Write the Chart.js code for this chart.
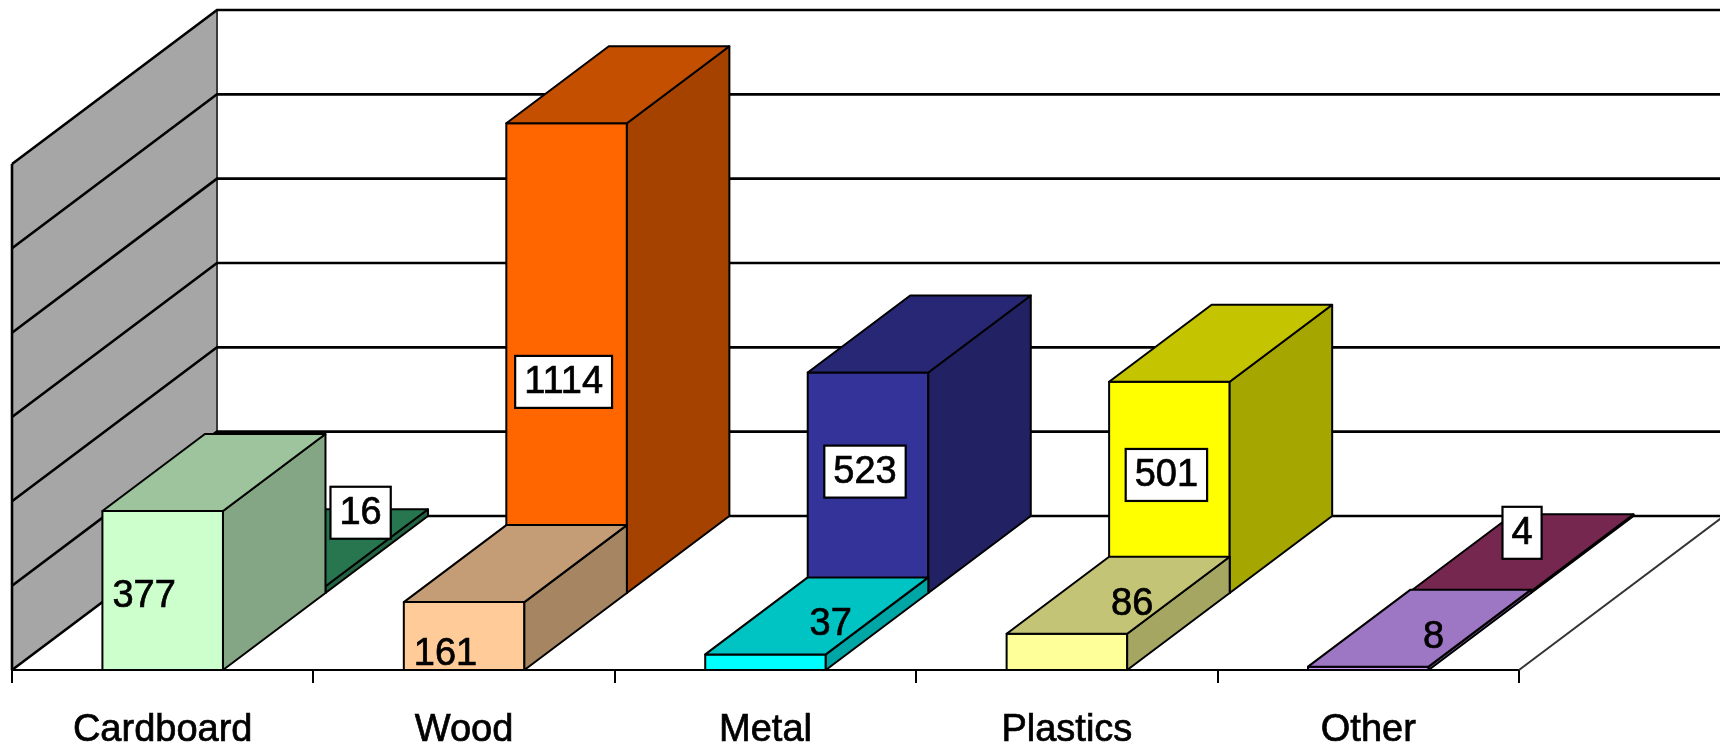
<!DOCTYPE html>
<html>
<head>
<meta charset="utf-8">
<script src="https://cdn.jsdelivr.net/npm/chart.js@4.4.1/dist/chart.umd.min.js"></script>
<style>
  html, body { margin: 0; padding: 0; background: #ffffff; }
  #wrap { width: 1720px; height: 748px; }
</style>
</head>
<body>
<div id="wrap"><canvas id="c" width="1720" height="748"></canvas></div>
<script>
// Waste quantities by material: front row and back row series
const categories = ['Cardboard', 'Wood', 'Metal', 'Plastics', 'Other'];
const frontValues = [377, 161, 37, 86, 8];
const backValues = [16, 1114, 523, 501, 4];
const frontColors = ['#CCFFCC', '#FFCC99', '#00FFFF', '#FFFF99', '#CC99FF'];
const backColors = ['#339966', '#FF6600', '#333399', '#FFFF00', '#993366'];
const valueMax = 1200;
const valueStep = 200;

// Oblique projection of the chart floor: total depth vector and row share
const DEPTH = { x: 205, y: -154 };
const ROW = 0.5;
const TOP_SHADE = 0.77;
const SIDE_SHADE = 0.65;
const FONT = '"Liberation Sans", Arial, sans-serif';
const LABEL_SIZE = 38;

function shade(hex, f) {
  const n = parseInt(hex.slice(1), 16);
  const r = Math.round(((n >> 16) & 255) * f);
  const g = Math.round(((n >> 8) & 255) * f);
  const b = Math.round((n & 255) * f);
  return `rgb(${r},${g},${b})`;
}

function poly(ctx, pts, fill) {
  ctx.beginPath();
  ctx.moveTo(pts[0][0], pts[0][1]);
  for (let i = 1; i < pts.length; i++) ctx.lineTo(pts[i][0], pts[i][1]);
  ctx.closePath();
  ctx.fillStyle = fill;
  ctx.fill();
  ctx.stroke();
}

function drawWalls(chart) {
  const ctx = chart.ctx;
  const area = chart.chartArea;
  const y = chart.scales.y;
  const x0 = area.left, x1 = area.right;
  const yTop = y.getPixelForValue(valueMax), yBot = y.getPixelForValue(0);
  ctx.save();
  // side wall
  ctx.fillStyle = '#A6A6A6';
  ctx.beginPath();
  ctx.moveTo(x0, yBot);
  ctx.lineTo(x0, yTop);
  ctx.lineTo(x0 + DEPTH.x, yTop + DEPTH.y);
  ctx.lineTo(x0 + DEPTH.x, yBot + DEPTH.y);
  ctx.closePath();
  ctx.fill();
  // back wall left edge
  ctx.strokeStyle = '#3a3a3a';
  ctx.lineWidth = 2;
  ctx.beginPath();
  ctx.moveTo(x0 + DEPTH.x, yTop + DEPTH.y);
  ctx.lineTo(x0 + DEPTH.x, yBot + DEPTH.y);
  ctx.stroke();
  // gridlines across side wall and back wall
  ctx.strokeStyle = '#000000';
  ctx.lineWidth = 2.6;
  y.ticks.forEach(t => {
    const py = y.getPixelForValue(t.value);
    ctx.beginPath();
    ctx.moveTo(x0, py);
    ctx.lineTo(x0 + DEPTH.x, py + DEPTH.y);
    ctx.lineTo(x1 + DEPTH.x, py + DEPTH.y);
    ctx.stroke();
  });
  // front edge of the side wall
  ctx.beginPath();
  ctx.moveTo(x0, yTop);
  ctx.lineTo(x0, yBot);
  ctx.stroke();
  // right edge of the floor
  ctx.lineWidth = 2;
  ctx.strokeStyle = '#333333';
  ctx.beginPath();
  ctx.moveTo(x1, yBot);
  ctx.lineTo(x1 + DEPTH.x, yBot + DEPTH.y);
  ctx.stroke();
  ctx.restore();
}

function boxGeom(bar, shift) {
  const p = bar.getProps(['x', 'y', 'base', 'width'], true);
  const l = p.x - p.width / 2 + shift.x;
  const r = p.x + p.width / 2 + shift.x;
  const t = Math.min(p.y, p.base) + shift.y;
  const b = Math.max(p.y, p.base) + shift.y;
  return { l, r, t, b, cx: p.x + shift.x, h: b - t };
}

function drawBox(ctx, g, color) {
  const dx = DEPTH.x * ROW, dy = DEPTH.y * ROW;
  ctx.save();
  ctx.strokeStyle = '#000000';
  ctx.lineWidth = 2;
  ctx.lineJoin = 'round';
  // front face
  poly(ctx, [[g.l, g.t], [g.r, g.t], [g.r, g.b], [g.l, g.b]], color);
  // side face
  poly(ctx, [[g.r, g.t], [g.r + dx, g.t + dy], [g.r + dx, g.b + dy], [g.r, g.b]], shade(color, SIDE_SHADE));
  // top face
  poly(ctx, [[g.l, g.t], [g.r, g.t], [g.r + dx, g.t + dy], [g.l + dx, g.t + dy]], shade(color, TOP_SHADE));
  ctx.restore();
}

// front: geometry of the front-row box in the same category (for back-row labels)
function drawLabel(ctx, g, value, isBack, front) {
  const text = String(value);
  ctx.save();
  ctx.font = `${LABEL_SIZE}px ${FONT}`;
  const tw = ctx.measureText(text).width;
  const bw = tw + 18, bh = LABEL_SIZE + 14;
  const hx = DEPTH.x * ROW / 2, hy = DEPTH.y * ROW / 2;
  let cx, cy;
  if (g.h < 50) {
    // too short for the front face: label rests on the top face
    cx = g.cx + hx + (isBack ? 0 : 14);
    cy = g.t + hy + (isBack ? -20 : 8);
    if (isBack && front) {
      // keep the boxed label clear of the box standing in front
      const frontEdge = front.r + DEPTH.x * ROW;
      const overlaps = front.t + DEPTH.y * ROW < cy + bh / 2;
      if (overlaps && cx - bw / 2 < frontEdge + 5) {
        cx = frontEdge + 5 + bw / 2;
        cy -= 15;
      }
    }
  } else if (isBack) {
    cx = g.cx - 3;
    cy = g.b - 0.36 * g.h - 42;
  } else {
    cx = g.l + 10 + tw / 2;
    cy = g.b - 0.64 * g.h + 27;
  }
  if (isBack) {
    ctx.fillStyle = '#ffffff';
    ctx.fillRect(cx - bw / 2, cy - bh / 2, bw, bh);
    ctx.strokeStyle = '#000000';
    ctx.lineWidth = 2.2;
    ctx.strokeRect(cx - bw / 2, cy - bh / 2, bw, bh);
  }
  ctx.fillStyle = '#000000';
  ctx.strokeStyle = '#000000';
  ctx.lineWidth = 0.7;
  ctx.textAlign = 'center';
  ctx.textBaseline = 'middle';
  ctx.fillText(text, cx, cy + 1);
  ctx.strokeText(text, cx, cy + 1);
  ctx.restore();
}

const boxes3d = {
  id: 'boxes3d',
  beforeDatasetsDraw(chart) {
    const ctx = chart.ctx;
    drawWalls(chart);
    const rows = [
      { index: 1, shift: { x: DEPTH.x * ROW, y: DEPTH.y * ROW }, back: true },
      { index: 0, shift: { x: 0, y: 0 }, back: false }
    ];
    const geoms = { true: [], false: [] };
    rows.forEach(row => {
      const ds = chart.data.datasets[row.index];
      chart.getDatasetMeta(row.index).data.forEach((bar, i) => {
        const g = boxGeom(bar, row.shift);
        drawBox(ctx, g, ds.backgroundColor[i]);
        geoms[row.back].push({ g, value: ds.data[i] });
      });
    });
    geoms[true].forEach((o, i) => drawLabel(ctx, o.g, o.value, true, geoms[false][i].g));
    geoms[false].forEach(o => drawLabel(ctx, o.g, o.value, false, null));
    return false;
  }
};

new Chart(document.getElementById('c'), {
  type: 'bar',
  data: {
    labels: categories,
    datasets: [
      { label: 'front', data: frontValues, backgroundColor: frontColors, grouped: false,
        barPercentage: 0.4, categoryPercentage: 1.0 },
      { label: 'back', data: backValues, backgroundColor: backColors, grouped: false,
        barPercentage: 0.4, categoryPercentage: 1.0 }
    ]
  },
  options: {
    responsive: false,
    animation: false,
    events: [],
    layout: { padding: { left: 12, right: 201, top: 164, bottom: 0 } },
    plugins: { legend: { display: false }, tooltip: { enabled: false } },
    scales: {
      x: {
        type: 'category',
        offset: true,
        grid: { offset: true, drawOnChartArea: false, drawTicks: true, tickLength: 13,
                color: '#000000', lineWidth: 2 },
        border: { display: true, color: '#000000', width: 2 },
        ticks: { color: '#000000', font: { family: FONT, size: LABEL_SIZE }, padding: 25,
                 textStrokeColor: '#000000', textStrokeWidth: 0.7,
                 maxRotation: 0, minRotation: 0, autoSkip: false },
        afterFit(scale) { scale.height = 78; }
      },
      y: {
        display: false,
        min: 0,
        max: valueMax,
        ticks: { stepSize: valueStep }
      }
    }
  },
  plugins: [boxes3d]
});
</script>
</body>
</html>
